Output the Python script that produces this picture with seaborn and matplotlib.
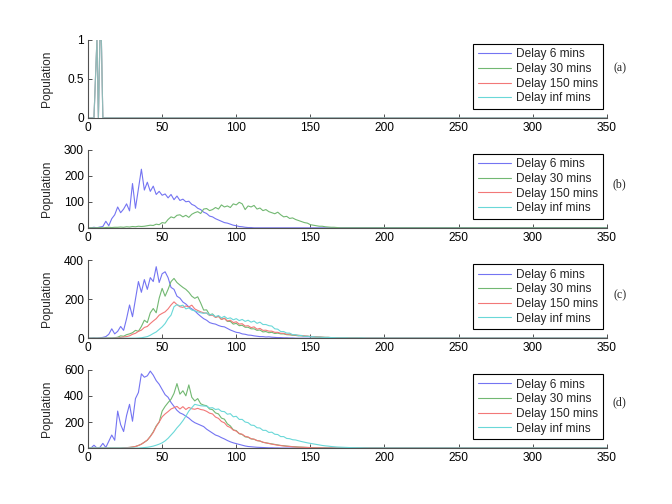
import numpy as np
import pandas as pd
import seaborn as sns
import matplotlib
matplotlib.use('Agg')
import matplotlib.pyplot as plt

# series labels and colours
labels = ['Delay 6 mins', 'Delay 30 mins', 'Delay 150 mins', 'Delay inf mins']
colors = ['#7474f2', '#72b872', '#f27878', '#6ad8d8']

# panel (a): single spikes at the start
a_t = [0, 4, 6, 7, 8, 9, 10, 350]
a_val = [0, 0, 1, 0, 1, 1, 0, 0]

# time grid (minutes) for panels b-d: every 2 units from 0 to 200, then the end point
t = list(range(0, 202, 2)) + [350]

# panel (b)
b_blue = [0, 0, 2, 0, 3, 5, 25, 8, 35, 50,
          80, 58, 72, 92, 65, 170, 75, 150, 225, 145,
          175, 140, 160, 128, 140, 125, 130, 115, 128, 108,
          122, 105, 110, 100, 102, 90, 85, 75, 70, 60,
          55, 45, 42, 35, 30, 25, 20, 18, 14, 10,
          8, 5, 4, 2, 1, 1, 0, 0, 0, 0,
          0, 0, 0, 0, 0, 0, 0, 0, 0, 0,
          0, 0, 0, 0, 0, 0, 0, 0, 0, 0,
          0, 0, 0, 0, 0, 0, 0, 0, 0, 0,
          0, 0, 0, 0, 0, 0, 0, 0, 0, 0,
          0, 0]
b_green = [0, 0, 0, 0, 1, 0, 1, 2, 1, 2,
           2, 3, 2, 4, 3, 5, 4, 6, 5, 6,
           8, 10, 9, 14, 12, 20, 18, 32, 42, 38,
           48, 50, 42, 48, 40, 52, 58, 62, 55, 72,
           74, 66, 70, 78, 72, 88, 80, 84, 78, 92,
           88, 98, 92, 70, 84, 80, 86, 72, 76, 66,
           70, 62, 58, 54, 60, 50, 42, 44, 36, 38,
           32, 28, 24, 20, 18, 12, 10, 8, 6, 6,
           4, 3, 2, 2, 1, 0, 0, 0, 0, 0,
           0, 0, 0, 0, 0, 0, 0, 0, 0, 0,
           0, 0]
b_flat_t = [0, 350]
b_flat = [0, 0]

# panel (c)
c_blue = [0, 0, 1, 0, 2, 4, 8, 20, 48, 22,
          35, 60, 40, 100, 170, 110, 200, 290, 235, 300,
          250, 310, 290, 366, 285, 330, 340, 310, 260, 250,
          215, 205, 185, 175, 160, 150, 140, 125, 112, 100,
          92, 80, 75, 72, 65, 60, 58, 50, 42, 36,
          30, 28, 22, 20, 16, 15, 12, 10, 8, 8,
          6, 7, 5, 4, 3, 3, 2, 2, 1, 1,
          0, 0, 0, 0, 0, 0, 0, 0, 0, 0,
          0, 0, 0, 0, 0, 0, 0, 0, 0, 0,
          0, 0, 0, 0, 0, 0, 0, 0, 0, 0,
          0, 0]
c_green = [0, 0, 0, 0, 0, 0, 0, 1, 1, 2,
           5, 12, 10, 18, 22, 28, 40, 35, 60, 92,
           80, 130, 152, 130, 205, 255, 215, 250, 290, 306,
           285, 272, 260, 250, 235, 215, 204, 212, 180, 144,
           145, 120, 124, 108, 112, 96, 102, 86, 86, 72,
           76, 64, 66, 56, 56, 48, 48, 40, 42, 32,
           34, 28, 30, 24, 26, 22, 22, 18, 17, 15,
           14, 12, 12, 10, 10, 8, 7, 6, 6, 5,
           4, 4, 3, 3, 2, 2, 2, 2, 1, 1,
           1, 1, 1, 0, 0, 0, 0, 0, 0, 0,
           0, 0]
c_red = [0, 0, 0, 0, 0, 0, 0, 0, 0, 1,
         2, 4, 6, 8, 12, 20, 25, 35, 41, 55,
         60, 75, 88, 100, 118, 127, 135, 150, 170, 186,
         172, 161, 158, 165, 160, 169, 150, 142, 135, 130,
         128, 116, 118, 106, 112, 96, 102, 88, 92, 80,
         84, 72, 74, 62, 64, 54, 58, 46, 50, 40,
         41, 36, 36, 30, 30, 25, 25, 20, 21, 17,
         16, 15, 13, 12, 10, 9, 8, 7, 6, 5,
         4, 4, 3, 3, 2, 2, 2, 1, 1, 1,
         1, 1, 0, 0, 0, 0, 0, 0, 0, 0,
         0, 0]
c_cyan = [0, 0, 0, 0, 0, 0, 0, 0, 0, 0,
          0, 0, 0, 0, 0, 0, 0, 1, 2, 5,
          8, 15, 24, 32, 45, 58, 75, 100, 118, 161,
          172, 165, 169, 150, 155, 144, 140, 135, 130, 127,
          130, 118, 122, 110, 116, 104, 112, 100, 104, 94,
          100, 90, 96, 86, 92, 82, 88, 76, 82, 70,
          70, 64, 62, 48, 46, 34, 34, 26, 26, 18,
          18, 14, 14, 9, 10, 7, 8, 5, 6, 4,
          4, 4, 3, 3, 2, 2, 2, 2, 1, 1,
          1, 1, 1, 1, 0, 0, 0, 0, 0, 0,
          0, 0]

# panel (d)
d_blue = [0, 0, 22, 0, 5, 36, 5, 52, 100, 60,
          284, 180, 127, 250, 336, 206, 380, 427, 570, 544,
          555, 591, 560, 518, 490, 450, 410, 390, 350, 320,
          290, 270, 260, 245, 230, 210, 195, 185, 175, 165,
          145, 130, 115, 100, 92, 80, 70, 58, 48, 40,
          34, 28, 22, 16, 12, 10, 8, 6, 5, 4,
          3, 2, 2, 1, 1, 0, 0, 0, 0, 0,
          0, 0, 0, 0, 0, 0, 0, 0, 0, 0,
          0, 0, 0, 0, 0, 0, 0, 0, 0, 0,
          0, 0, 0, 0, 0, 0, 0, 0, 0, 0,
          0, 0]
d_green = [0, 0, 0, 0, 0, 0, 0, 0, 0, 0,
           0, 0, 2, 3, 5, 8, 12, 20, 30, 45,
           60, 90, 125, 170, 200, 284, 320, 349, 375, 420,
           495, 414, 440, 401, 485, 390, 362, 380, 340, 330,
           325, 300, 295, 270, 262, 230, 222, 186, 170, 140,
           134, 110, 104, 86, 83, 70, 68, 57, 54, 44,
           40, 36, 32, 28, 24, 20, 18, 15, 13, 11,
           10, 8, 7, 6, 5, 4, 3, 2, 2, 1,
           1, 0, 0, 0, 0, 0, 0, 0, 0, 0,
           0, 0, 0, 0, 0, 0, 0, 0, 0, 0,
           0, 0]
d_red = [0, 0, 0, 0, 0, 0, 0, 0, 0, 0,
         0, 0, 2, 3, 5, 8, 12, 20, 30, 45,
         62, 88, 120, 165, 200, 240, 262, 280, 300, 310,
         320, 300, 318, 296, 312, 302, 298, 305, 296, 292,
         282, 268, 262, 238, 228, 204, 194, 168, 158, 138,
         130, 112, 106, 90, 85, 72, 68, 58, 54, 45,
         40, 35, 30, 26, 22, 19, 16, 14, 12, 10,
         8, 7, 6, 5, 4, 3, 2, 2, 1, 1,
         0, 0, 0, 0, 0, 0, 0, 0, 0, 0,
         0, 0, 0, 0, 0, 0, 0, 0, 0, 0,
         0, 0]
d_cyan = [0, 0, 0, 0, 0, 0, 0, 0, 0, 0,
          0, 0, 0, 0, 0, 0, 0, 0, 2, 4,
          6, 10, 15, 22, 30, 40, 55, 75, 100, 125,
          155, 180, 210, 245, 284, 310, 336, 330, 325, 323,
          322, 308, 310, 296, 300, 282, 280, 260, 264, 240,
          244, 220, 220, 200, 195, 176, 174, 156, 154, 136,
          136, 120, 122, 106, 104, 88, 88, 74, 72, 64,
          62, 56, 50, 45, 40, 36, 32, 28, 24, 20,
          17, 15, 12, 10, 8, 7, 6, 5, 4, 3,
          3, 2, 2, 1, 1, 0, 0, 0, 0, 0,
          0, 0]

# y axis settings per panel
ylims = [1, 300, 400, 600]
yticks = [[0, 0.5, 1], [0, 100, 200, 300], [0, 200, 400], [0, 200, 400, 600]]
yticklabels = [['0', '0.5', '1'], ['0', '100', '200', '300'],
               ['0', '200', '400'], ['0', '200', '400', '600']]
panel_tags = ['(a)', '(b)', '(c)', '(d)']
tag_y = [0.63, 0.56, 0.55, 0.58]
xticks = [0, 50, 100, 150, 200, 250, 300, 350]


def make_frame(pieces):
    frames = []
    for lab, xs, ys in pieces:
        frames.append(pd.DataFrame({'t': xs, 'pop': ys, 'delay': lab}))
    return pd.concat(frames, ignore_index=True)


panels = [
    make_frame([(lab, a_t, a_val) for lab in labels]),
    make_frame([(labels[0], t, b_blue), (labels[1], t, b_green),
                (labels[2], b_flat_t, b_flat), (labels[3], b_flat_t, b_flat)]),
    make_frame([(labels[0], t, c_blue), (labels[1], t, c_green),
                (labels[2], t, c_red), (labels[3], t, c_cyan)]),
    make_frame([(labels[0], t, d_blue), (labels[1], t, d_green),
                (labels[2], t, d_red), (labels[3], t, d_cyan)]),
]

sns.set_theme(style='white')
plt.rcParams['font.family'] = ['Liberation Sans', 'DejaVu Sans']
fs = 8.6
axis_col = '#505050'

fig = plt.figure(figsize=(6.72, 5.04), dpi=100)
bottoms = [0.766, 0.548, 0.329, 0.111]

for i, df in enumerate(panels):
    ax = fig.add_axes([0.131, bottoms[i], 0.772, 0.155])
    # spikes in (a) overlap, so blend them a little
    alpha = 0.6 if i == 0 else 1.0
    sns.lineplot(data=df, x='t', y='pop', hue='delay', hue_order=labels,
                 palette=colors, estimator=None, linewidth=0.8, alpha=alpha, ax=ax)
    ax.set_xlim(0, 350)
    ax.set_ylim(0, ylims[i])
    ax.set_xticks(xticks)
    ax.set_xticklabels([str(v) for v in xticks], fontsize=fs)
    ax.set_yticks(yticks[i])
    ax.set_yticklabels(yticklabels[i], fontsize=fs)
    ax.set_xlabel('')
    ax.set_ylabel('Population', fontsize=fs)
    ax.yaxis.set_label_coords(-0.068, 0.5)
    for side in ['top', 'right']:
        ax.spines[side].set_visible(False)
    for side in ['left', 'bottom']:
        ax.spines[side].set_color(axis_col)
        ax.spines[side].set_linewidth(0.8)
    ax.tick_params(bottom=True, left=True, direction='in', length=3, width=0.7,
                   color=axis_col, pad=3, labelcolor='black')
    handles, labs = ax.get_legend_handles_labels()
    for h, c in zip(handles, colors):
        h.set_alpha(1.0)
        h.set_color(c)
        h.set_linewidth(0.8)
    leg = ax.legend(handles, labs, loc='upper right', bbox_to_anchor=(0.992, 0.95),
                    borderaxespad=0, fontsize=fs, frameon=True, fancybox=False,
                    framealpha=1, edgecolor='black', handlelength=2.8,
                    handletextpad=0.4, labelspacing=0.22, borderpad=0.4)
    leg.get_frame().set_linewidth(0.8)
    ax.text(1.025, tag_y[i], panel_tags[i], transform=ax.transAxes,
            ha='center', va='center', fontsize=fs, family='Liberation Serif')

fig.savefig('out.png', dpi=100)
